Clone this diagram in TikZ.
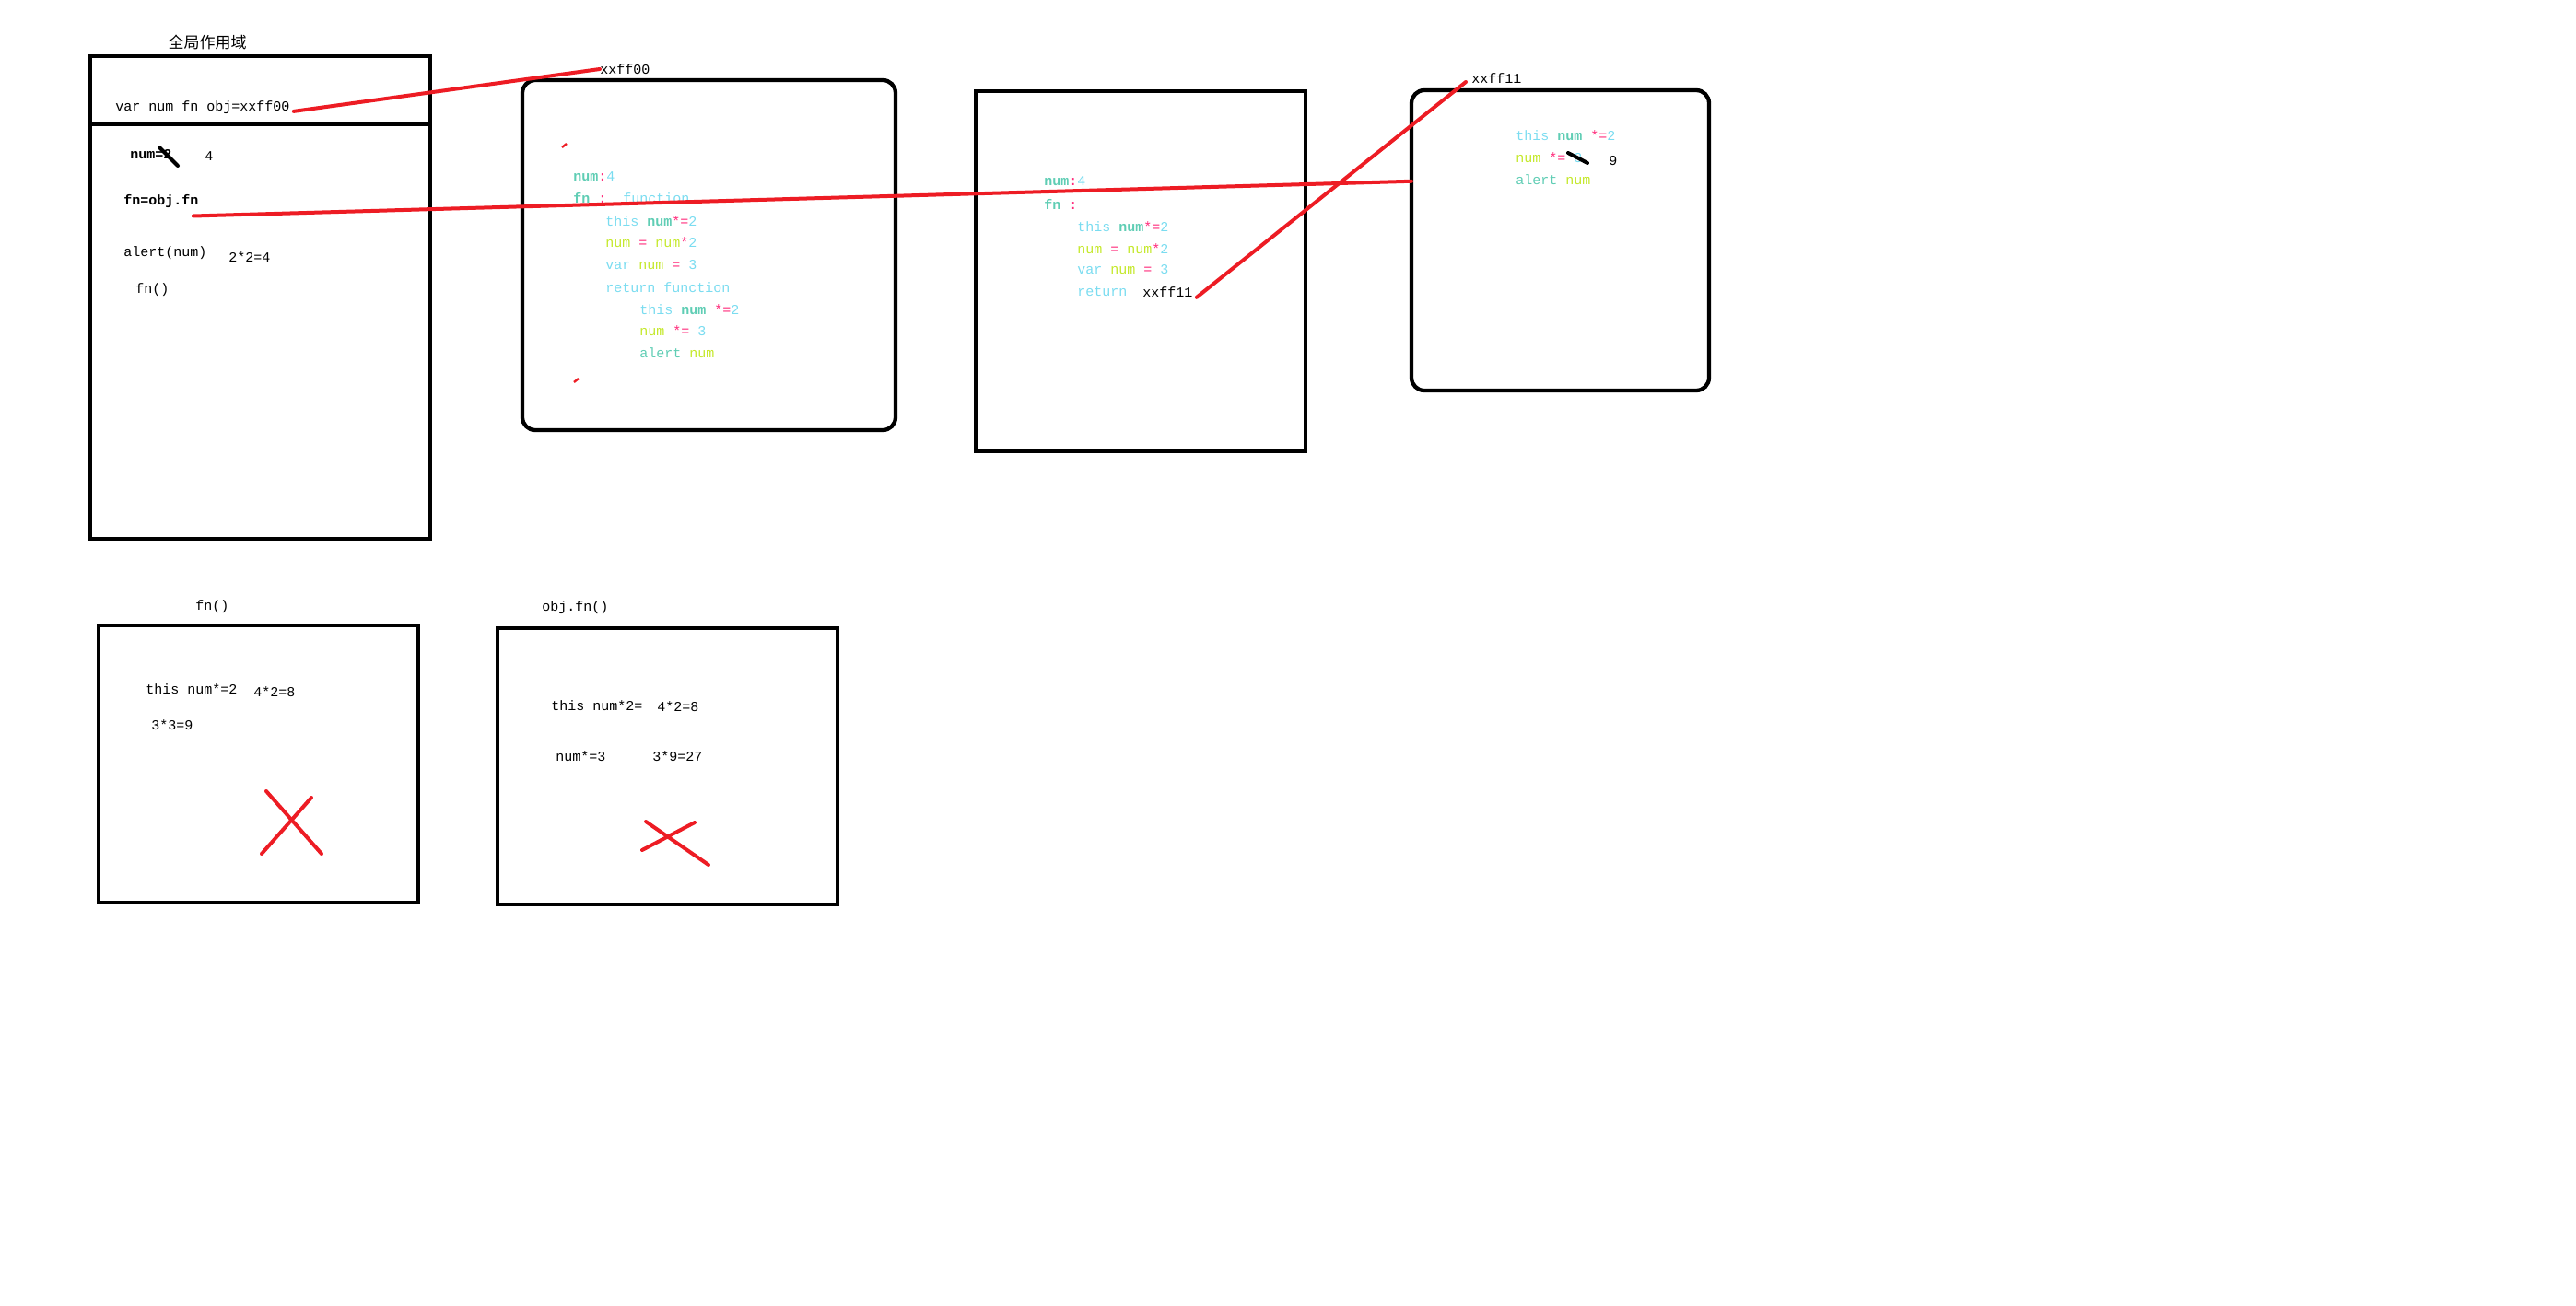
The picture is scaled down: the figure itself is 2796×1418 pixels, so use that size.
\documentclass[tikz,border=0pt]{standalone}
\usepackage{fontspec}
\setmonofont{Liberation Mono}
\newfontfamily\cjk{Noto Sans CJK SC}
\usepackage{xcolor}
\usetikzlibrary{calc,positioning}
\definecolor{paintRed}{HTML}{ED1C24}
\definecolor{codeTeal}{HTML}{5FCDB4}
\definecolor{codeCyan}{HTML}{7ADCF0}
\definecolor{codeLime}{HTML}{C4E82A}
\definecolor{codePink}{HTML}{FF2A7A}
\newcommand{\ccy}[1]{\textcolor{codeCyan}{#1}}
\newcommand{\ctl}[1]{\textbf{\textcolor{codeTeal}{#1}}}
\newcommand{\ctn}[1]{\textcolor{codeTeal}{#1}}
\newcommand{\clm}[1]{\textcolor{codeLime}{#1}}
\newcommand{\cpk}[1]{\textcolor{codePink}{#1}}

\begin{document}
\begin{tikzpicture}[
  x=0.5pt,
  y=-0.5pt,
  frame/.style={
    draw=black,
    line width=2.15pt,
    anchor=north west,
    inner sep=0pt,
    outer sep=0pt,
  },
  rframe/.style={
    frame,
    rounded corners=7pt,
  },
  code/.style={
    anchor=west,
    inner sep=0pt,
    font=\ttfamily\fontsize{7.5pt}{9pt}\selectfont,
  },
  wire/.style={
    draw=paintRed,
    line width=2pt,
    line cap=round,
  },
  strike/.style={
    line width=2pt,
    line cap=round,
  },
]
\useasboundingbox (0,0) rectangle (2796,1418);

% global scope
\node[font=\cjk\fontsize{8.5pt}{10pt}\selectfont, inner sep=0pt] (scopeTitle) at (225,46) {全局作用域};
\node[frame, minimum width=184.5pt, minimum height=262pt] (global) at (98,61) {};
\draw[line width=2.15pt] (global.west |- 0,135) -- (global.east |- 0,135);
\node[code] (varLine) at (125,117) {var num fn obj=xxff00};
\node[code, font=\ttfamily\bfseries\fontsize{7.5pt}{9pt}\selectfont] (numSet) at (141,168) {num=2};
\draw[strike] (173,160) -- (193,180);
\node[code] (numVal) at (222,170) {4};
\node[code, font=\ttfamily\bfseries\fontsize{7.5pt}{9pt}\selectfont] (fnAssign) at (134,219) {fn=obj.fn};
\node[code] (alertCall) at (134,275) {alert(num)};
\node[code] (alertVal) at (248,279) {2*2=4};
\node[code] (fnCall) at (147,315) {fn()};

% object xxff00
\node[code] (addrA) at (651,75) {xxff00};
\node[rframe, minimum width=202.5pt, minimum height=190pt] (heapA) at (567,87) {};
\draw[paintRed, line width=1.2pt] (610,160) -- (615,156);
\draw[paintRed, line width=1.2pt] (623,415) -- (628,411);
\node[code] (hA1) at (622,192) {\ctl{num}\cpk{:}\ccy{4}};
\node[code] (hA2) at (622,215) {\ctl{fn}\ \cpk{:}\ \ \ccy{function}};
\node[code] (hA3) at (657,240) {\ccy{this} \ctl{num}\cpk{*=}\ccy{2}};
\node[code] (hA4) at (657,263) {\clm{num} \cpk{=} \clm{num}\cpk{*}\ccy{2}};
\node[code] (hA5) at (657,288) {\ccy{var} \clm{num} \cpk{=} \ccy{3}};
\node[code] (hA6) at (657,312) {\ccy{return function}};
\node[code] (hA7) at (694,336) {\ccy{this} \ctl{num} \cpk{*=}\ccy{2}};
\node[code] (hA8) at (694,359) {\clm{num} \cpk{*=} \ccy{3}};
\node[code] (hA9) at (694,383) {\ctn{alert} \clm{num}};

% call of fn
\node[frame, minimum width=179pt, minimum height=195.5pt] (callA) at (1059,99) {};
\node[code] (cA1) at (1133,197) {\ctl{num}\cpk{:}\ccy{4}};
\node[code] (cA2) at (1133,222) {\ctl{fn}\ \cpk{:}};
\node[code] (cA3) at (1169,246) {\ccy{this} \ctl{num}\cpk{*=}\ccy{2}};
\node[code] (cA4) at (1169,270) {\clm{num} \cpk{=} \clm{num}\cpk{*}\ccy{2}};
\node[code] (cA5) at (1169,293) {\ccy{var} \clm{num} \cpk{=} \ccy{3}};
\node[code] (cA6) at (1169,317) {\ccy{return}};
\node[code] (retAddr) at (1240,317) {xxff11};

% object xxff11
\node[code] (addrB) at (1597,85) {xxff11};
\node[rframe, minimum width=161.5pt, minimum height=163pt] (heapB) at (1532,98) {};
\node[code] (hB1) at (1645,147) {\ccy{this} \ctl{num} \cpk{*=}\ccy{2}};
\node[code] (hB2) at (1645,171) {\clm{num} \cpk{*=} \ccy{3}};
\node[code] (hB3) at (1645,195) {\ctn{alert} \clm{num}};
\node[code] (hBval) at (1746,175) {9};
\draw[strike] (1702,166) -- (1723,177);

% fn()
\node[code] (runAlabel) at (212,659) {fn()};
\node[frame, minimum width=173.5pt, minimum height=150.5pt] (runA) at (107,679) {};
\node[code] (rA1) at (158,748) {this num*=2};
\node[code] (rA2) at (275,751) {4*2=8};
\node[code] (rA3) at (164,787) {3*3=9};
\draw[wire] (289,859) -- (349,927);
\draw[wire] (338,866) -- (284,927);

% obj.fn()
\node[code] (runBlabel) at (588,660) {obj.fn()};
\node[frame, minimum width=184.5pt, minimum height=150pt] (runB) at (540,682) {};
\node[code] (rB1) at (598,766) {this num*2=};
\node[code] (rB2) at (713,767) {4*2=8};
\node[code] (rB3) at (603,821) {num*=3};
\node[code] (rB4) at (708,821) {3*9=27};
\draw[wire] (701,892) -- (769,939);
\draw[wire] (697,923) -- (754,893);

% references
\draw[wire] ([xshift=2pt]varLine.base east) -- (addrA.west);
\draw[wire] ([shift={(-3pt,-4pt)}]fnAssign.south east) -- ($(heapB.north west)!0.303!(heapB.south west)$);
\draw[wire] ([xshift=2pt]retAddr.south east) -- ([shift={(-3pt,-2pt)}]addrB.west);
\end{tikzpicture}
\end{document}
